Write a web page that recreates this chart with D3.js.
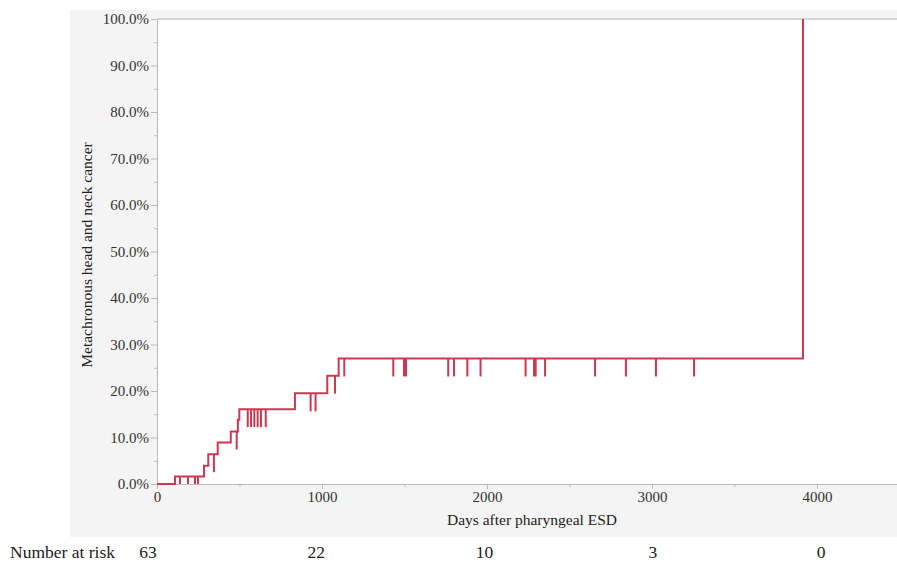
<!DOCTYPE html>
<html><head><meta charset="utf-8">
<script src="https://cdn.jsdelivr.net/npm/d3@7"></script>
<style>body{margin:0;background:#fff}svg{display:block}text{font-family:"Liberation Serif","Times New Roman",serif;fill:#222}</style>
</head><body><svg id="c" width="897" height="562"></svg>
<script>
// step events: [day, cumulative incidence %]
const stepDays   = [0, 109, 285, 311, 368, 447, 490, 499, 836, 1032, 1101, 3915];
const stepValues = [0, 1.6, 3.9, 6.4, 8.9, 11.3, 13.8, 16.1, 19.5, 23.3, 27.0, 100];
// censored observations (days)
const censorDays = [139, 188, 230, 248, 345, 483, 550, 570, 590, 610, 630, 659, 931, 961, 1079, 1135,
  1432, 1497, 1509, 1765, 1800, 1881, 1961, 2234, 2285, 2295, 2352, 2655, 2842, 3024, 3255];
const yTicks = [0,10,20,30,40,50,60,70,80,90,100];
const xTicks = [0,1000,2000,3000,4000];
const riskDays = [0,1000,2000,3000,4000];
const riskCounts = [63,22,10,3,0];

const svg = d3.select("#c");
const L=157, R=897, T=19, B=484;
svg.append("rect").attr("x",70).attr("y",10).attr("width",827).attr("height",527).attr("fill","#f4f4f4");
svg.append("rect").attr("x",L).attr("y",T).attr("width",R-L).attr("height",B-T).attr("fill","#fff");

const x = d3.scaleLinear().domain([0,4485]).range([L,R]);
const y = d3.scaleLinear().domain([0,100]).range([B,T]);
const xr = d3.scaleLinear().domain([0,4000]).range([148,821]);

// axes
const yAx = svg.append("g").attr("transform",`translate(${L},0)`)
  .call(d3.axisLeft(y).tickValues(yTicks).tickFormat(d=>d.toFixed(1)+"%").tickSize(6).tickSizeOuter(0));
svg.append("g").attr("transform",`translate(${L},0)`)
  .call(d3.axisLeft(y).tickValues(d3.range(5,100,10)).tickFormat("").tickSize(3).tickSizeOuter(0))
  .select(".domain").remove();
const xAx = svg.append("g").attr("transform",`translate(0,${B})`)
  .call(d3.axisBottom(x).tickValues(xTicks).tickFormat(d3.format("d")).tickSize(5).tickSizeOuter(0));
svg.append("g").attr("transform",`translate(0,${B})`)
  .call(d3.axisBottom(x).tickValues([500,1500,2500,3500]).tickFormat("").tickSize(3).tickSizeOuter(0))
  .select(".domain").remove();
svg.selectAll(".domain,.tick line").attr("stroke","#bbb");
svg.selectAll(".tick text").style("font-size","15px").style("fill","#333").style("font-family","'Liberation Serif',serif");
yAx.selectAll(".tick text").attr("x",-8);
xAx.selectAll(".tick text").attr("y",7);
svg.append("line").attr("x1",L).attr("x2",R).attr("y1",T).attr("y2",T).attr("stroke","#c8c8c8").attr("stroke-width",1.5);

// curve
const pts = [];
stepDays.forEach((d,i)=>pts.push([d,stepValues[i]]));
const line = d3.line().x(d=>x(d[0])).y(d=>y(d[1])).curve(d3.curveStepAfter);
svg.append("path").datum(pts).attr("d",line).attr("fill","none").attr("stroke","#c9394f").attr("stroke-width",2);

function valAt(d){let v=0;stepDays.forEach((s,i)=>{if(s<=d)v=stepValues[i];});return v;}
svg.selectAll(".cens").data(censorDays).join("line")
  .attr("x1",d=>x(d)).attr("x2",d=>x(d))
  .attr("y1",d=>y(valAt(d))).attr("y2",d=>Math.min(y(valAt(d))+18, y(0)))
  .attr("stroke","#c9394f").attr("stroke-width",2);

// titles
svg.append("text").attr("x",532).attr("y",525).attr("text-anchor","middle").style("font-size","15.5px").text("Days after pharyngeal ESD");
svg.append("text").attr("transform","translate(92,255) rotate(-90)").attr("text-anchor","middle").style("font-size","15.5px").text("Metachronous head and neck cancer");

// number at risk
svg.append("text").attr("x",10).attr("y",558).style("font-size","17.5px").text("Number at risk");
svg.selectAll(".risk").data(riskCounts).join("text")
  .attr("x",(d,i)=>xr(riskDays[i])).attr("y",558).attr("text-anchor","middle").style("font-size","17.5px").text(d=>d);
</script></body></html>
